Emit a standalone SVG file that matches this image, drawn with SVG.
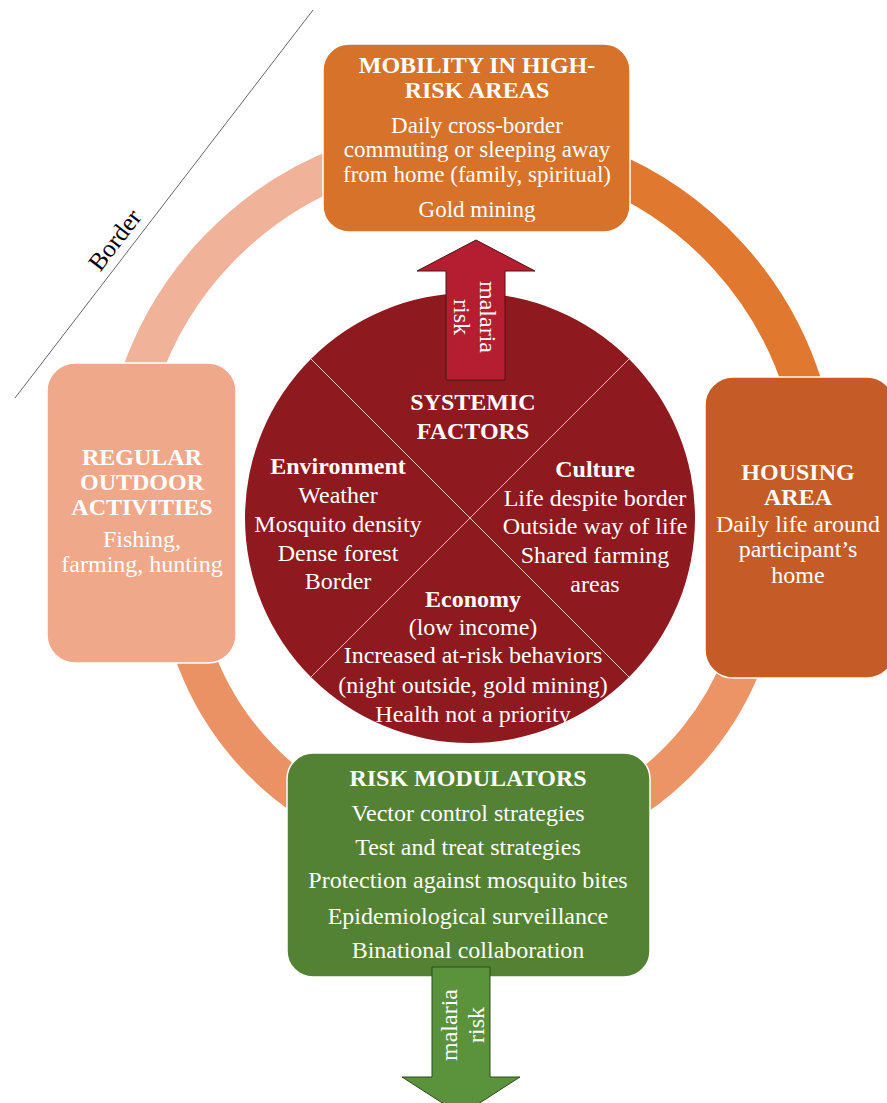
<svg xmlns="http://www.w3.org/2000/svg" width="887" height="1103" viewBox="0 0 887 1103">
<style>
text{font-family:"Liberation Serif","Times New Roman",serif;fill:#fff;text-anchor:middle}
.b{font-weight:bold}
.s24{font-size:24px}
.s23{font-size:23px}
.box{stroke:#fff;stroke-width:1.5}
.ring{fill:none;stroke-width:39}
</style>
<rect width="887" height="1103" fill="#fff"/>
<g id="border">
<line x1="15" y1="398" x2="313" y2="10" stroke="#555" stroke-width="0.9"/>
<text transform="translate(115,240) rotate(-52.5)" y="8" style="fill:#000;font-size:25px">Border</text>
</g>
<g id="connectors">
<path class="ring" stroke="#F1B29A" d="M139.1,380 A349,349 0 0 1 345,165.2"/>
<path class="ring" stroke="#E0782F" d="M600,167.1 A349,349 0 0 1 804.1,390"/>
<path class="ring" stroke="#EC9466" d="M743.5,660 A293,293 0 0 1 630,800.5"/>
<path class="ring" stroke="#EB9264" d="M310,800.5 A293,293 0 0 1 192.8,650"/>
</g>
<g id="mobility">
<rect class="box" x="323" y="44" width="307" height="188" rx="26" fill="#D6722A"/>
<text class="b s24" x="477" y="73">MOBILITY IN HIGH-</text>
<text class="b s24" x="477" y="98">RISK AREAS</text>
<text class="s23" x="477" y="133">Daily cross-border</text>
<text class="s23" x="477" y="157">commuting or sleeping away</text>
<text class="s23" x="477" y="182">from home (family, spiritual)</text>
<text class="s23" x="477" y="217">Gold mining</text>
</g>
<g id="housing">
<rect class="box" x="705" y="377" width="190" height="301" rx="28" fill="#C55B27"/>
<text class="b s24" x="798" y="480">HOUSING</text>
<text class="b s24" x="798" y="505">AREA</text>
<text class="s24" x="798" y="532">Daily life around</text>
<text class="s24" x="798" y="557">participant’s</text>
<text class="s24" x="798" y="583">home</text>
</g>
<g id="outdoor">
<rect class="box" x="47" y="363" width="189" height="300" rx="28" fill="#F0A88B"/>
<text class="b s24" x="142" y="465">REGULAR</text>
<text class="b s24" x="142" y="490">OUTDOOR</text>
<text class="b s24" x="142" y="515">ACTIVITIES</text>
<text class="s24" x="142" y="547">Fishing,</text>
<text class="s24" x="142" y="572">farming, hunting</text>
</g>
<g id="modulators">
<rect class="box" x="287" y="753" width="363" height="224" rx="26" fill="#548235"/>
<text class="b s24" x="468" y="786">RISK MODULATORS</text>
<text class="s24" x="468" y="821">Vector control strategies</text>
<text class="s24" x="468" y="855">Test and treat strategies</text>
<text class="s24" x="468" y="888">Protection against mosquito bites</text>
<text class="s24" x="468" y="924">Epidemiological surveillance</text>
<text class="s24" x="468" y="958">Binational collaboration</text>
</g>
<g id="systemic">
<circle cx="470" cy="518" r="225" fill="#8E191F"/>
<line x1="311" y1="359" x2="629" y2="677" stroke="#E2C2C2" stroke-width="1"/>
<line x1="629" y1="359" x2="311" y2="677" stroke="#E2C2C2" stroke-width="1"/>
<text class="b s24" x="473" y="410">SYSTEMIC</text>
<text class="b s24" x="473" y="439">FACTORS</text>
<text class="b s24" x="338" y="474">Environment</text>
<text class="s24" x="338" y="503">Weather</text>
<text class="s24" x="338" y="532">Mosquito density</text>
<text class="s24" x="338" y="561">Dense forest</text>
<text class="s24" x="338" y="589">Border</text>
<text class="b s24" x="595" y="477">Culture</text>
<text class="s24" x="595" y="506">Life despite border</text>
<text class="s24" x="595" y="534">Outside way of life</text>
<text class="s24" x="595" y="563">Shared farming</text>
<text class="s24" x="595" y="592">areas</text>
<text class="b s24" x="473" y="607">Economy</text>
<text class="s24" x="473" y="635">(low income)</text>
<text class="s24" x="473" y="663">Increased at-risk behaviors</text>
<text class="s24" x="473" y="693">(night outside, gold mining)</text>
<text class="s24" x="473" y="722">Health not a priority</text>
</g>
<g id="arrow-up">
<path d="M446,380 L446,271 L417,271 L476,240 L535,271 L505,271 L505,380 Z" fill="#B51E30" stroke="#4A1515" stroke-width="1"/>
<text class="s24" transform="translate(476,317) rotate(90)" y="-4">malaria</text>
<text class="s24" transform="translate(476,317) rotate(90)" y="22">risk</text>
</g>
<g id="arrow-down">
<path d="M432,967 L432,1077 L402,1077 L461,1115 L520,1077 L490,1077 L490,967 Z" fill="#5B923C" stroke="#2F4A1E" stroke-width="1"/>
<text class="s24" transform="translate(461,1025) rotate(-90)" y="-4">malaria</text>
<text class="s24" transform="translate(461,1025) rotate(-90)" y="23">risk</text>
</g>
</svg>
